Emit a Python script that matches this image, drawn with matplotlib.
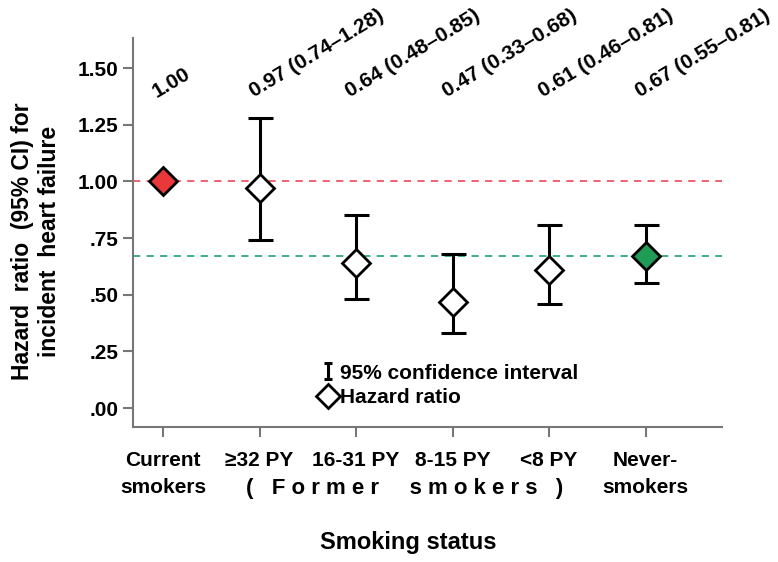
import matplotlib.pyplot as plt
from matplotlib.lines import Line2D
from matplotlib.path import Path

plt.rcParams['font.family'] = ['Liberation Sans', 'DejaVu Sans']
plt.rcParams['font.weight'] = 'bold'

groups = ['Current\nsmokers', '≥32 PY', '16-31 PY', '8-15 PY', '<8 PY', 'Never-\nsmokers']
hr = [1.00, 0.97, 0.64, 0.47, 0.61, 0.67]
ci_low = [None, 0.74, 0.48, 0.33, 0.46, 0.55]
ci_high = [None, 1.28, 0.85, 0.68, 0.81, 0.81]
hr_labels = ['1.00', '0.97 (0.74–1.28)', '0.64 (0.48–0.85)', '0.47 (0.33–0.68)',
             '0.61 (0.46–0.81)', '0.67 (0.55–0.81)']
y_ticks = [0.0, 0.25, 0.5, 0.75, 1.0, 1.25, 1.5]
y_tick_labels = ['.00', '.25', '.50', '.75', '1.00', '1.25', '1.50']

fig = plt.figure(figsize=(7.78, 5.62), dpi=100)
ax = fig.add_axes([0.171, 0.240, 0.757, 0.692])

axis_grey = '#777777'
ax.axhline(hr[0], color='#ee5566', ls=(0, (4, 3.5)), lw=1.3, zorder=1)
ax.axhline(hr[-1], color='#2fa87a', ls=(0, (4, 3.5)), lw=1.3, zorder=1)

# error bars for the former smokers and never-smokers
for i in range(1, len(hr)):
    ax.errorbar(i, hr[i], yerr=[[hr[i] - ci_low[i]], [ci_high[i] - hr[i]]],
                fmt='none', ecolor='black', elinewidth=2.2, capsize=9, capthick=2.2, zorder=2)

face = ['#e8383a', 'white', 'white', 'white', 'white', '#1f9b55']
for i in range(len(hr)):
    ax.plot(i, hr[i], marker='D', ms=14, mfc=face[i], mec='black', mew=2, ls='none', zorder=3)

for i, lab in enumerate(hr_labels):
    ax.text(i - 0.04, 1.355, lab, rotation=31, rotation_mode='anchor', ha='left', va='bottom',
            fontsize=15, fontweight='bold')

ax.set_xlim(-0.31, 5.79)
ax.set_ylim(-0.084, 1.632)
ax.set_xticks(range(len(groups)))
ax.set_xticklabels(groups, fontsize=15, fontweight='bold', linespacing=1.55)
ax.set_yticks(y_ticks)
ax.set_yticklabels(y_tick_labels, fontsize=15, fontweight='bold')
ax.tick_params(axis='both', colors=axis_grey, labelcolor='black', width=1.5, length=7)
ax.tick_params(axis='x', pad=10)
for side in ['top', 'right']:
    ax.spines[side].set_visible(False)
for side in ['left', 'bottom']:
    ax.spines[side].set_color(axis_grey)
    ax.spines[side].set_linewidth(1.5)

ax.text(2.5, -0.353, '(   F o r m e r     s m o k e r s   )', ha='center', va='center',
        fontsize=16, fontweight='bold', transform=ax.transData)

fig.text(408 / 778, 1 - 543 / 562, 'Smoking status', ha='center', va='center',
         fontsize=17, fontweight='bold')
fig.text(36 / 778, 1 - 241 / 562, 'Hazard  ratio  (95% CI) for\nincident  heart failure',
         rotation=90, ha='center', va='center', multialignment='center',
         fontsize=16.5, fontweight='bold', linespacing=1.25)

ibar = Path([(-0.5, 1), (0.5, 1), (0, 1), (0, -1), (-0.5, -1), (0.5, -1)],
            [Path.MOVETO, Path.LINETO, Path.MOVETO, Path.LINETO, Path.MOVETO, Path.LINETO])
handles = [Line2D([], [], marker=ibar, ms=12, mec='black', mew=2.2, ls='none'),
           Line2D([], [], marker='D', ms=12, mfc='white', mec='black', mew=2, ls='none')]
ax.legend(handles, ['95% confidence interval', 'Hazard ratio'], loc='upper left',
          bbox_to_anchor=(0.30, 0.19), frameon=False, handlelength=0.8, handletextpad=0.15,
          borderpad=0, labelspacing=0.25, prop={'size': 15, 'weight': 'bold'})

fig.savefig('out.png', dpi=100)
